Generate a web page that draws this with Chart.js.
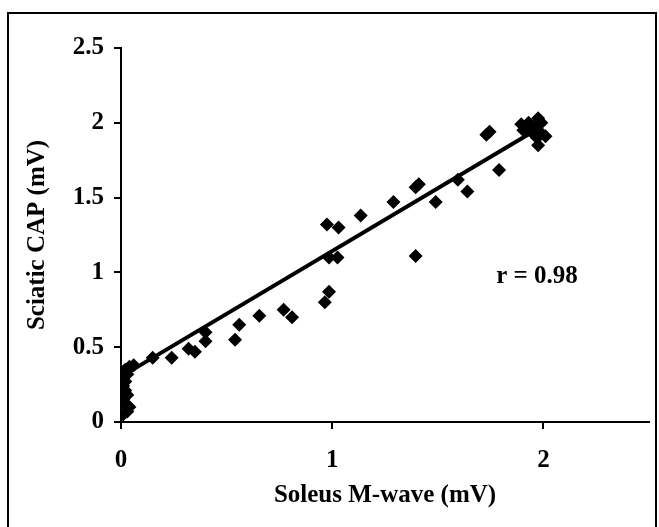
<!DOCTYPE html>
<html lang="en">
<head>
    <meta charset="UTF-8" />
    <title>Sciatic CAP vs Soleus M-wave</title>
    <script src="https://cdn.jsdelivr.net/npm/chart.js"></script>
    <style>
        body { margin: 0; background: #fff; }
        #chartContainer { width: 659px; height: 527px; }
    </style>
</head>
<body>

<div id="chartContainer">
    <canvas id="myChart" width="659" height="527"></canvas>
</div>

<script>
    // Data (mV)
    const mWave = [
        0.01, 0.03, 0.04, 0.02, 0.01, 0.03, 0.02, 0.01, 0.02, 0.01, 0.03, 0.02, 0.04, 0.06,
        0.15, 0.24, 0.32, 0.35, 0.40, 0.40, 0.54, 0.56, 0.655, 0.77, 0.81, 0.965, 0.985,
        0.985, 1.025, 0.975, 1.03, 1.135, 1.29, 1.395, 1.41, 1.49, 1.395, 1.595, 1.64,
        1.73, 1.745, 1.79,
        1.895, 1.905, 1.93, 1.955, 1.975, 1.99, 1.95, 1.97, 2.01, 1.975, 1.99
    ];
    const sciaticCap = [
        0.05, 0.07, 0.10, 0.12, 0.15, 0.18, 0.21, 0.24, 0.27, 0.30, 0.32, 0.35, 0.37, 0.38,
        0.43, 0.43, 0.49, 0.47, 0.54, 0.60, 0.55, 0.65, 0.71, 0.75, 0.70, 0.80, 0.87,
        1.10, 1.10, 1.32, 1.30, 1.38, 1.47, 1.57, 1.59, 1.47, 1.11, 1.62, 1.54,
        1.92, 1.94, 1.685,
        1.99, 1.95, 2.00, 1.97, 2.03, 2.00, 1.93, 1.90, 1.91, 1.85, 1.93
    ];

    // regression line end points, as drawn
    const fitX = [0.02, 1.95];
    const fitY = [0.32, 1.94];

    const xTicks = [0, 1, 2];
    const yTicks = [0, 0.5, 1, 1.5, 2, 2.5];
    const rLabel = 'r = 0.98';

    const serif = "'Liberation Serif', 'Times New Roman', serif";

    // outer frame and the r value
    const extras = {
        id: 'extras',
        beforeDraw(chart) {
            const ctx = chart.ctx;
            ctx.save();
            ctx.fillStyle = '#fff';
            ctx.fillRect(0, 0, chart.width, chart.height);
            ctx.strokeStyle = '#000';
            ctx.lineWidth = 2;
            ctx.strokeRect(8, 13, 648, 530);
            ctx.restore();
        },
        afterDraw(chart) {
            const ctx = chart.ctx;
            const x = chart.scales.x.getPixelForValue(1.97);
            const y = chart.scales.y.getPixelForValue(0.97);
            ctx.save();
            ctx.font = 'bold 25px ' + serif;
            ctx.fillStyle = '#000';
            ctx.textAlign = 'center';
            ctx.textBaseline = 'middle';
            ctx.fillText(rLabel, x, y);
            ctx.restore();
        }
    };

    document.addEventListener("DOMContentLoaded", function() {
        const ctx = document.getElementById('myChart').getContext('2d');

        new Chart(ctx, {
            type: 'scatter',
            data: {
                datasets: [{
                    type: 'line',
                    data: fitX.map((x, i) => ({ x: x, y: fitY[i] })),
                    borderColor: '#000',
                    borderWidth: 4,
                    pointRadius: 0,
                    fill: false
                }, {
                    data: mWave.map((x, i) => ({ x: x, y: sciaticCap[i] })),
                    pointStyle: 'rectRot',
                    pointRadius: 7,
                    pointBackgroundColor: '#000',
                    pointBorderWidth: 0
                }]
            },
            options: {
                responsive: false,
                animation: false,
                layout: { padding: { top: 48, right: 10, left: 0, bottom: 0 } },
                plugins: {
                    legend: { display: false },
                    tooltip: { enabled: false }
                },
                scales: {
                    x: {
                        type: 'linear',
                        min: 0,
                        max: 2.5,
                        afterBuildTicks: s => { s.ticks = xTicks.map(v => ({ value: v })); },
                        afterFit: s => { s.height = 105; },
                        grid: { drawOnChartArea: false, color: '#000', lineWidth: 2, tickLength: 7 },
                        border: { color: '#000', width: 2 },
                        ticks: {
                            color: '#000',
                            padding: 17,
                            maxRotation: 0,
                            callback: v => String(v),
                            font: { family: serif, size: 25, weight: 'bold' }
                        },
                        title: {
                            display: true,
                            text: 'Soleus M-wave (mV)',
                            color: '#000',
                            padding: { bottom: 16 },
                            font: { family: serif, size: 25, weight: 'bold' }
                        }
                    },
                    y: {
                        min: 0,
                        max: 2.5,
                        afterBuildTicks: s => { s.ticks = yTicks.map(v => ({ value: v })); },
                        afterFit: s => { s.width = 121; },
                        grid: { drawOnChartArea: false, color: '#000', lineWidth: 2, tickLength: 7 },
                        border: { color: '#000', width: 2 },
                        ticks: {
                            color: '#000',
                            padding: 10,
                            callback: v => String(v),
                            font: { family: serif, size: 25, weight: 'bold' }
                        },
                        title: {
                            display: true,
                            text: 'Sciatic CAP (mV)',
                            color: '#000',
                            padding: { top: 23 },
                            font: { family: serif, size: 25, weight: 'bold' }
                        }
                    }
                }
            },
            plugins: [extras]
        });
    });
</script>

</body>
</html>
